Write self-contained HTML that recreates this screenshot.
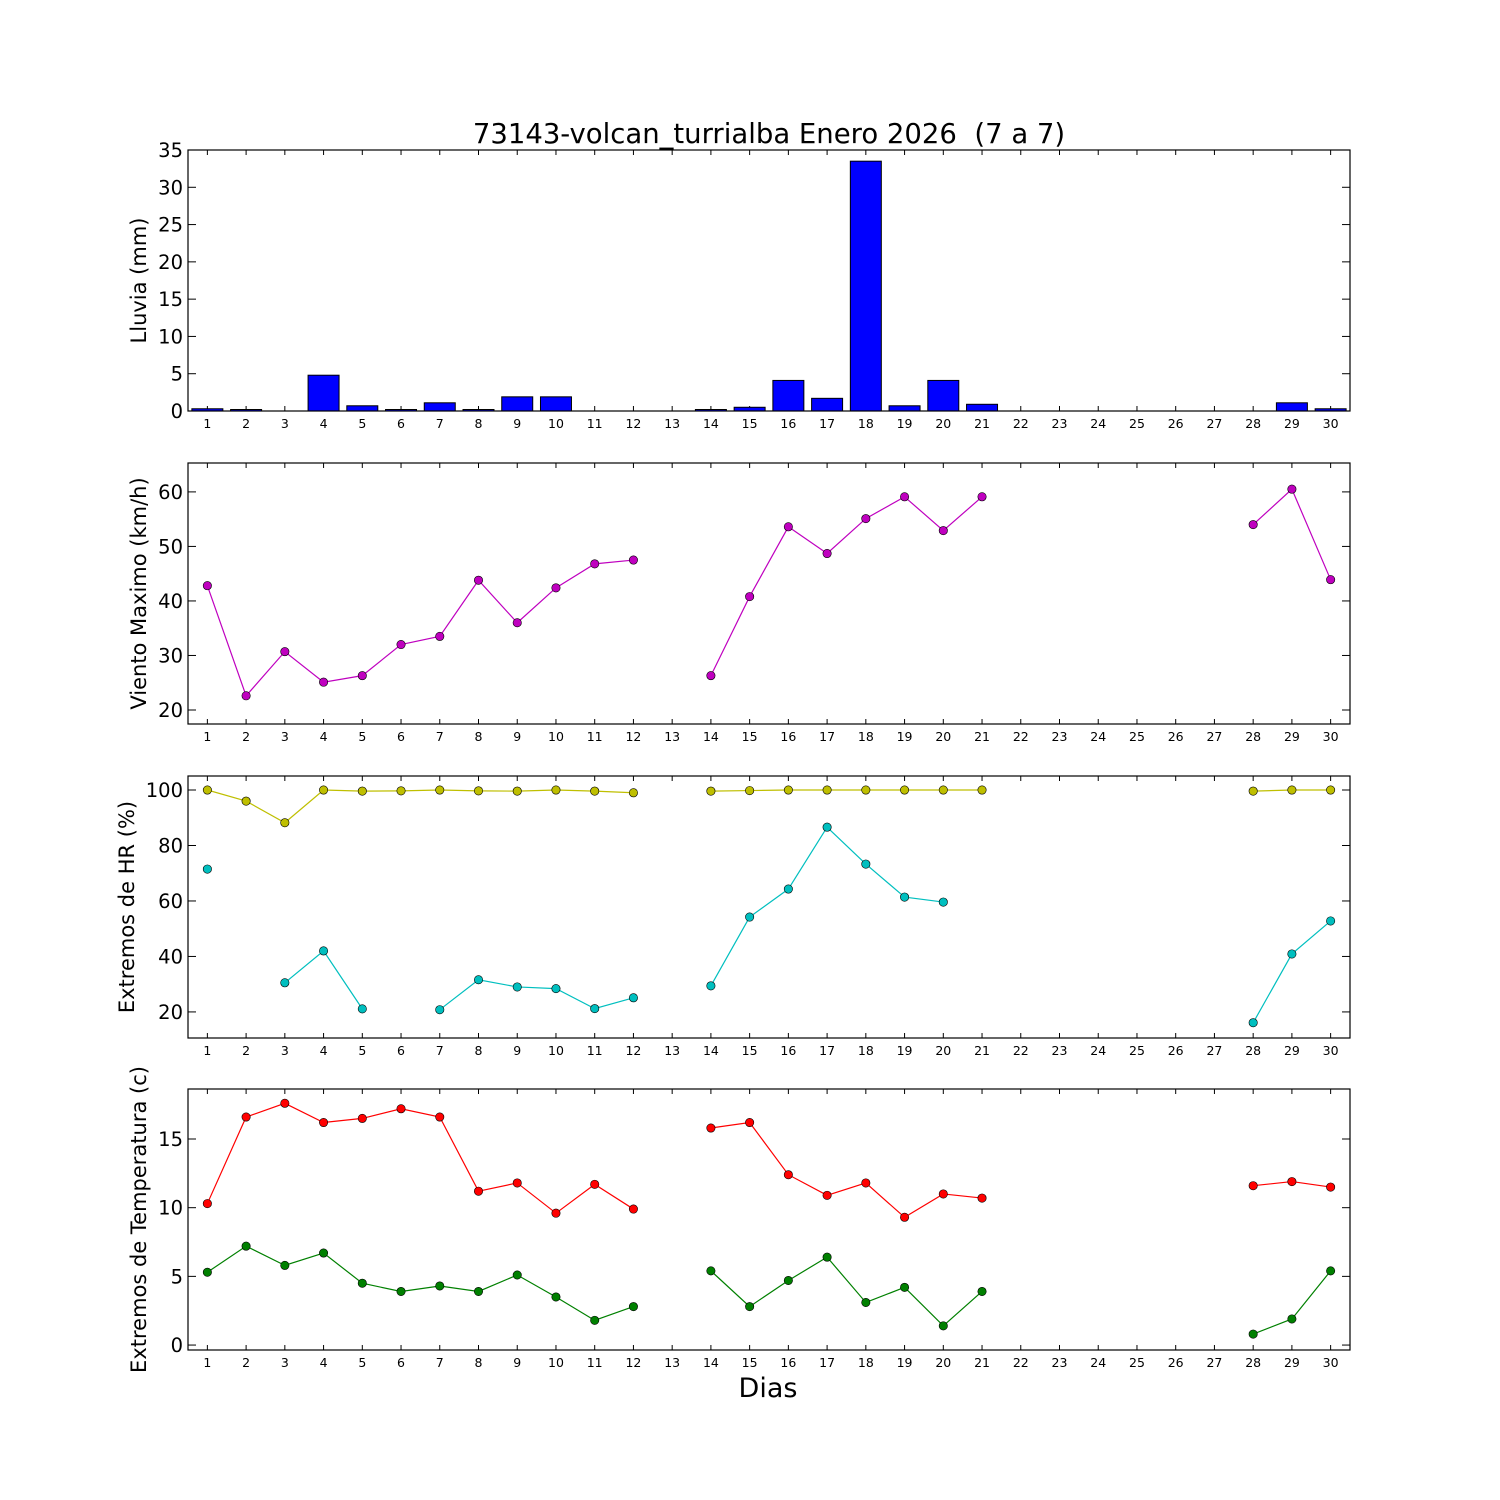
<!DOCTYPE html>
<html><head><meta charset="utf-8">
<style>
html,body{margin:0;padding:0;background:#fff;}
svg{display:block;font-family:"DejaVu Sans","Liberation Sans",sans-serif;}
</style></head>
<body>
<svg id="chart" width="1500" height="1500" xmlns="http://www.w3.org/2000/svg">
<rect width="1500" height="1500" fill="#fff"/>
<text x="769" y="143" font-size="27.5" text-anchor="middle" style="white-space:pre">73143-volcan_turrialba Enero 2026  (7 a 7)</text>
<text x="768" y="1397" font-size="27" text-anchor="middle">Dias</text>
</svg>
<script>
const days = Array.from({length:30},(_,i)=>i+1);
const rain = [0.3,0.2,0,4.8,0.7,0.2,1.1,0.2,1.9,1.9,0,0,null,0.2,0.5,4.1,1.7,33.5,0.7,4.1,0.9,0,0,0,0,0,0,0,1.1,0.3];
const wind = [42.8,22.6,30.7,25.1,26.3,32,33.5,43.8,36,42.4,46.8,47.5,null,26.3,40.8,53.6,48.7,55.1,59.1,52.9,59.1,null,null,null,null,null,null,54,60.5,43.9];
const hrMax = [100,96,88.2,100,99.6,99.7,100,99.7,99.6,100,99.6,99,null,99.6,99.8,100,100,100,100,100,100,null,null,null,null,null,null,99.6,100,100];
const hrMin = [71.5,null,30.5,42,21.1,null,20.8,31.6,29,28.4,21.2,25.1,null,29.4,54.2,64.3,86.6,73.3,61.4,59.6,null,null,null,null,null,null,null,16.1,40.9,52.8];
const tMax = [10.3,16.6,17.6,16.2,16.5,17.2,16.6,11.2,11.8,9.6,11.7,9.9,null,15.8,16.2,12.4,10.9,11.8,9.3,11,10.7,null,null,null,null,null,null,11.6,11.9,11.5];
const tMin = [5.3,7.2,5.8,6.7,4.5,3.9,4.3,3.9,5.1,3.5,1.8,2.8,null,5.4,2.8,4.7,6.4,3.1,4.2,1.4,3.9,null,null,null,null,null,null,0.8,1.9,5.4];
const rainTicks = [0,5,10,15,20,25,30,35];
const windTicks = [20,30,40,50,60];
const hrTicks = [20,40,60,80,100];
const tTicks = [0,5,10,15];

const NS='http://www.w3.org/2000/svg';
const svg=document.getElementById('chart');
const L=188,R=1350;
const xs=d=>L+(d-0.5)/30*(R-L);
function el(tag,attrs,parent){const e=document.createElementNS(NS,tag);for(const k in attrs)e.setAttribute(k,attrs[k]);(parent||svg).appendChild(e);return e;}

function panel(name,top,bot,ymin,ymax,ticks,label){
  const g=el('g',{});
  
  
  const ys=v=>bot-(v-ymin)/(ymax-ymin)*(bot-top);
  days.forEach(d=>{
    const x=xs(d);
    el('line',{x1:x,x2:x,y1:bot,y2:bot-5,stroke:'#000','stroke-width':1},g);
    el('line',{x1:x,x2:x,y1:top,y2:top+5,stroke:'#000','stroke-width':1},g);
    const t=el('text',{x:x,y:bot+17,'font-size':12.5,'text-anchor':'middle'},g);
    t.textContent=d;
    
    
  });
  ticks.forEach(v=>{
    const y=ys(v);
    el('line',{x1:L,x2:L+8,y1:y,y2:y,stroke:'#000','stroke-width':1},g);
    el('line',{x1:R,x2:R-8,y1:y,y2:y,stroke:'#000','stroke-width':1},g);
    const t=el('text',{x:L-5,y:y+7,'font-size':19.5,'text-anchor':'end'},g);
    t.textContent=v;
    
    
  });
  const yl=el('text',{x:0,y:0,'font-size':21,'text-anchor':'middle',transform:`translate(${label.x},${(top+bot)/2}) rotate(-90)`},g);
  yl.textContent=label.text;
  
  
  return {g,ys,top,bot};
}
function frame(p){el('rect',{x:L,y:p.top,width:R-L,height:p.bot-p.top,fill:'none',stroke:'#000','stroke-width':1.2},p.g);}
function series(p,vals,color,name){
  let seg=[];
  const segs=[];
  vals.forEach((v,i)=>{if(v==null){if(seg.length)segs.push(seg);seg=[];}else seg.push([xs(days[i]),p.ys(v)]);});
  if(seg.length)segs.push(seg);
  segs.forEach(s=>{if(s.length>1){const pl=el('polyline',{points:s.map(q=>q.join(',')).join(' '),fill:'none',stroke:color,'stroke-width':1.2},p.g);
    
    }});
  vals.forEach((v,i)=>{if(v==null)return;
    const c=el('circle',{cx:xs(days[i]),cy:p.ys(v),r:4.2,fill:color,stroke:'#000','stroke-width':0.6},p.g);
    
    });
}

const p1=panel('rain-panel',150,411,0,35,rainTicks,{x:146,text:'Lluvia (mm)'});
rain.forEach((v,i)=>{if(v==null)return;
  const x=xs(days[i]),w=(R-L)/30*0.8;
  const b=el('rect',{x:x-w/2,y:p1.ys(v),width:w,height:Math.max(0,p1.bot-p1.ys(v)),fill:'#0000ff',stroke:'#000','stroke-width':1},p1.g);
  
  });
frame(p1);

const p2=panel('wind-panel',463,724,17.43,65.3,windTicks,{x:146,text:'Viento Maximo (km/h)'});
series(p2,wind,'#bf00bf','wind');frame(p2);

const p3=panel('humidity-panel',776,1038,10.6,105.05,hrTicks,{x:134,text:'Extremos de HR (%)'});
series(p3,hrMax,'#bfbf00','hr-max');series(p3,hrMin,'#00bfbf','hr-min');frame(p3);

const p4=panel('temperature-panel',1089,1350,-0.36,18.64,tTicks,{x:146,text:'Extremos de Temperatura (c)'});
series(p4,tMax,'#ff0000','temp-max');series(p4,tMin,'#008000','temp-min');frame(p4);
</script>
</body></html>
